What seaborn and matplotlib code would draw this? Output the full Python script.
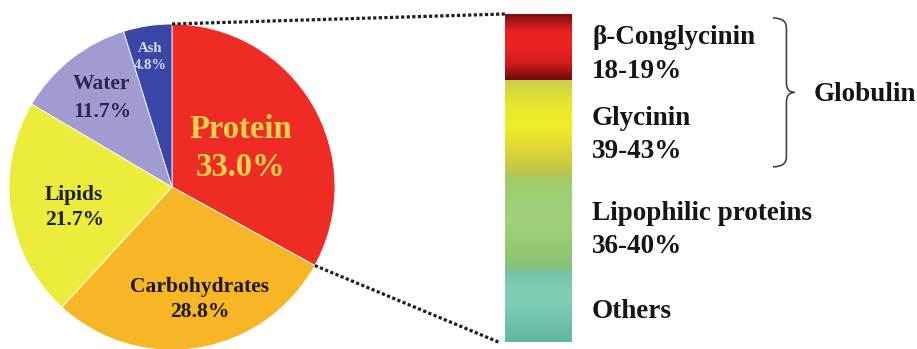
import numpy as np
import seaborn as sns
import matplotlib.pyplot as plt
import matplotlib.path as mpath
import matplotlib.patches as mpatches
from matplotlib.colors import LinearSegmentedColormap
from matplotlib.patches import ConnectionPatch
from matplotlib import transforms

# soybean composition (pie)
pie_labels = ["Protein", "Carbohydrates", "Lipids", "Water", "Ash"]
pie_values = [33.0, 28.8, 21.7, 11.7, 4.8]

# protein fractions (bar), segment shares as drawn
fraction_names = ["β-Conglycinin", "Glycinin", "Lipophilic proteins", "Others"]
fraction_ranges = ["18-19%", "39-43%", "36-40%", ""]
bar_shares = [20, 29, 29, 22]
group_label = "Globulin"

sns.set_theme(style="white")
plt.rcParams['font.family'] = ['Liberation Serif', 'DejaVu Serif']
plt.rcParams['font.weight'] = 'bold'

pie_colors = ['#ee2b25', '#f6b625', '#ecec3c', '#a09bd1', '#3a47a7']
label_pos = [(0.42, 0.235), (0.17, -0.69), (-0.60, -0.125), (-0.43, 0.545), (-0.135, 0.795)]
label_size = [23.5, 15.5, 15.5, 15.5, 10.5]
label_color = ['#f5d24e', '#1e1606', '#1e1e10', '#2a2850', '#dcdcf2']
label_spacing = [1.3, 1.33, 1.35, 1.5, 1.4]

seg_stops = [
    ['#7e0c0c', '#e82020', '#ee2424', '#d01c1c', '#6e0808'],
    ['#c9cf4c', '#e6e62e', '#eeee2a', '#dcd636', '#bcc34e'],
    ['#a6cc62', '#9dcf76', '#a2d07c', '#94c972', '#86c27a'],
    ['#6fc1a6', '#82cdb8', '#7ecbb6', '#6cc1a8', '#5fb69e'],
]

W, H = 917, 349
fig = plt.figure(figsize=(W / 100, H / 100), dpi=100)

# pie axes: circle centred at (172, 187) px, radius 163 px
cx, cy, r = 172, 187, 163
ax_pie = fig.add_axes([(cx - r) / W, (H - cy - r) / H, 2 * r / W, 2 * r / H])
wedges, _ = ax_pie.pie(pie_values, colors=pie_colors, startangle=90, counterclock=False,
                       wedgeprops=dict(edgecolor='white', linewidth=0.6))
for w in wedges:
    w.set_clip_on(False)
ax_pie.set_xlim(-1, 1)
ax_pie.set_ylim(-1, 1)
ax_pie.set_aspect('equal')
ax_pie.axis('off')

for name, val, pos, fs, col, ls in zip(pie_labels, pie_values, label_pos, label_size,
                                       label_color, label_spacing):
    ax_pie.text(pos[0], pos[1], f"{name}\n{val:.1f}%", ha='center', va='center',
                fontsize=fs, color=col, fontweight='bold', linespacing=ls)

# stacked gradient bar
bx0, bx1, by0, by1 = 505, 572, 14, 342
ax_bar = fig.add_axes([bx0 / W, (H - by1) / H, (bx1 - bx0) / W, (by1 - by0) / H])
bottoms = np.concatenate([[0], np.cumsum(bar_shares)[:-1]])
bars = ax_bar.bar([0] * len(bar_shares), bar_shares, bottom=bottoms, width=1,
                  color='none', edgecolor='none')
ax_bar.set_xlim(-0.5, 0.5)
ax_bar.set_ylim(sum(bar_shares), 0)
ax_bar.axis('off')

for patch, b, h, stops in zip(bars.patches, bottoms, bar_shares, seg_stops):
    cmap = LinearSegmentedColormap.from_list('seg', stops)
    grad = np.linspace(0, 1, 200).reshape(-1, 1)
    im = ax_bar.imshow(grad, cmap=cmap, aspect='auto', extent=(-0.5, 0.5, b + h, b),
                       interpolation='bicubic')
    im.set_clip_path(patch)

# labels beside the bar
trans = transforms.blended_transform_factory(ax_bar.transAxes, ax_bar.transData)
for name, rng, b, h in zip(fraction_names, fraction_ranges, bottoms, bar_shares):
    txt = name if rng == "" else f"{name}\n{rng}"
    shift = 2.4 if rng else 1.8
    ax_bar.text(1.30, b + h / 2 + shift, txt, transform=trans, ha='left', va='center',
                fontsize=19.5, fontweight='bold', color='#151515', linespacing=1.45)

# curly brace around the globulin fractions
top, bot = 1.2, bottoms[2] - 2.4
mid = (top + bot) / 2
a, b_, c = 4.0, 4.2, 4.32
P = mpath.Path
verts = [(a, top), (b_, top), (b_, top + 3), (b_, mid - 3), (b_, mid), (c, mid),
         (b_, mid), (b_, mid + 3), (b_, bot - 3), (b_, bot), (a, bot)]
codes = [P.MOVETO, P.CURVE3, P.CURVE3, P.LINETO, P.CURVE3, P.CURVE3,
         P.CURVE3, P.CURVE3, P.LINETO, P.CURVE3, P.CURVE3]
brace = mpatches.PathPatch(P(verts, codes), transform=trans, facecolor='none',
                           edgecolor='#444444', lw=1.2, clip_on=False)
ax_bar.add_patch(brace)
ax_bar.text(4.6, mid + 0.5, group_label, transform=trans, ha='left', va='center',
            fontsize=19.5, fontweight='bold', color='#151515')

# dotted connectors from the protein wedge to the bar
theta_end = np.deg2rad(90 - 360 * pie_values[0] / sum(pie_values))
for p_pie, p_bar in [((0, 1), (-0.5, 0)),
                     ((np.cos(theta_end), np.sin(theta_end)), (-0.6, sum(bar_shares)))]:
    con = ConnectionPatch(xyA=p_pie, coordsA=ax_pie.transData, xyB=p_bar,
                          coordsB=ax_bar.transData, linestyle=(0, (1, 0.75)),
                          color='#1e1e1e', lw=2.3, capstyle='butt')
    fig.add_artist(con)

fig.savefig('out.png', dpi=100)
